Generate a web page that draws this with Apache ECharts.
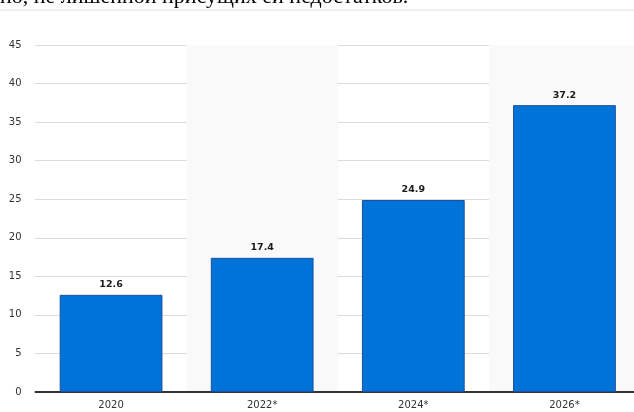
<!DOCTYPE html>
<html>
<head>
<meta charset="utf-8">
<script src="https://cdn.jsdelivr.net/npm/echarts@6/dist/echarts.min.js"></script>
<style>html,body{margin:0;padding:0;background:#fff}#c{width:634px;height:412px}</style>
</head>
<body>
<div id="c"></div>
<script>
const categories = ['2020', '2022*', '2024*', '2026*'];
const values = [12.6, 17.4, 24.9, 37.2];
const yTicks = [0, 5, 10, 15, 20, 25, 30, 35, 40, 45];
const headerText = 'но, не лишенной присущих ей недостатков.';

const chart = echarts.init(document.getElementById('c'), null, {renderer: 'canvas'});
chart.setOption({
  animation: false,
  backgroundColor: '#fff',
  graphic: [
    {type: 'rect', shape: {x: 0, y: 9, width: 634, height: 2}, style: {fill: '#eef0f3'}, z: 1},
    {type: 'text', x: 0, y: 8, style: {text: headerText, font: '22px "Liberation Serif"', fill: '#000', textVerticalAlign: 'bottom'}, z: 2}
  ],
  grid: {left: 35.5, top: 45, width: 604.5, bottom: 20, containLabel: false, outerBoundsMode: 'none'},
  xAxis: {
    type: 'category',
    data: categories,
    boundaryGap: true,
    axisLine: {show: true, lineStyle: {color: '#333', width: 2}},
    axisTick: {show: false},
    axisLabel: {color: '#333', fontFamily: 'DejaVu Sans', fontSize: 10, margin: 8},
    splitArea: {show: true, areaStyle: {color: ['rgba(255,255,255,0)', '#f9f9f9']}},
    splitLine: {show: false}
  },
  yAxis: {
    type: 'value',
    min: yTicks[0],
    max: yTicks[yTicks.length - 1],
    interval: 5,
    axisLine: {show: false},
    axisTick: {show: false},
    axisLabel: {color: '#333', fontFamily: 'DejaVu Sans', fontSize: 10, margin: 14},
    splitLine: {show: true, lineStyle: {color: '#b8b8b8', type: 'dotted', width: 1}}
  },
  series: [{
    type: 'bar',
    data: values,
    barWidth: '68%',
    itemStyle: {color: '#0073d8', borderColor: '#1d4f9e', borderWidth: 1},
    label: {show: true, position: 'top', distance: 5, color: '#1a1a1a', fontFamily: 'DejaVu Sans', fontWeight: 'bold', fontSize: 9.5, formatter: p => p.value.toFixed(1)}
  }]
});
</script>
</body>
</html>
